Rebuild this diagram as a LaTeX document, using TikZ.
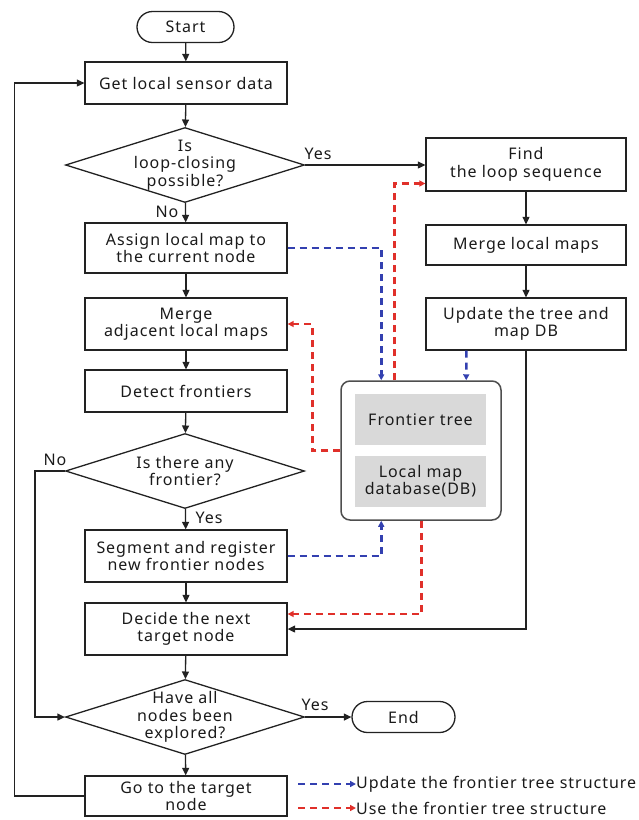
\documentclass[tikz,border=0pt]{standalone}
\usepackage{fontspec}
\setmainfont[LetterSpace=6]{Noto Sans}
\usetikzlibrary{shapes.geometric,shapes.misc,arrows.meta,calc}

\definecolor{lineblk}{HTML}{222222}
\definecolor{updblue}{HTML}{3340B0}
\definecolor{usered}{HTML}{E0302A}
\definecolor{dbgray}{HTML}{D9D9D9}
\definecolor{txt}{HTML}{1A1A1A}

\begin{document}
\begin{tikzpicture}[x=1pt,y=-1pt,
  every node/.style={font=\fontsize{16}{17.5}\selectfont, text=txt},
  proc/.style={draw=lineblk, line width=1.3pt, minimum width=202, align=center, inner sep=0},
  decision/.style={diamond, draw=lineblk, line width=1.3pt, minimum width=239, minimum height=75, inner sep=0},
  terminal/.style={rounded rectangle, draw=lineblk, line width=1.3pt, minimum height=31, inner sep=0},
  flow/.style={draw=lineblk, line width=1.3pt, -{Triangle[length=7.5pt,width=7pt]}},
  updline/.style={draw=updblue, line width=2.5pt, dash pattern=on 7pt off 5pt, -{Triangle[length=6pt,width=6pt]}},
  useline/.style={draw=usered, line width=2.5pt, dash pattern=on 7pt off 5pt, -{Triangle[length=6pt,width=6pt]}},
  cell/.style={fill=dbgray, minimum width=131, minimum height=51, align=center, inner sep=0}
]
\useasboundingbox (0,0) rectangle (638,820);

% main column
\node[terminal, minimum width=97] (start) at (185.5,27) {Start};
\node[proc, minimum height=42] (get) at (186,83) {Get local sensor data};
\node[decision, label={[align=center]center:Is\\loop-closing\\possible?}] (d1) at (185,165) {};
\node[proc, minimum height=50] (assign) at (186,248) {Assign local map to\\the current node};
\node[proc, minimum height=52] (merge) at (186,324) {Merge\\adjacent local maps};
\node[proc, minimum height=42] (detect) at (186,391) {Detect frontiers};
\node[decision, label={[align=center]center:Is there any\\frontier?}] (d2) at (185,471) {};
\node[proc, minimum height=52] (seg) at (186,556) {Segment and register\\new frontier nodes};
\node[proc, minimum height=52] (decide) at (186,629) {Decide the next\\target node};
\node[decision, label={[align=center]center:Have all\\nodes been\\explored?}] (d3) at (185,717) {};
\node[terminal, minimum width=103] (end) at (403.5,717) {End};
\node[proc, minimum height=40] (go) at (186,796) {Go to the target\\node};

% loop-closing column
\node[proc, minimum width=200, minimum height=53] (find) at (526,164.5) {Find\\the loop sequence};
\node[proc, minimum width=200, minimum height=40] (mlm) at (526,245) {Merge local maps};
\node[proc, minimum width=200, minimum height=52] (updb) at (526,324) {Update the tree and\\map DB};

% frontier tree / map database
\node[draw=lineblk!80, line width=1.5pt, rounded corners=9, minimum width=160, minimum height=139] (db) at (421,450.5) {};
\node[cell] (ft) at (420.5,419.5) {Frontier tree};
\node[cell] (lmdb) at (420.5,481) {Local map\\database(DB)};

% branch labels
\node (yes1) at (318,154) {Yes};
\node (no1) at (167,212) {No};
\node (no2) at (55,460) {No};
\node (yes2) at (209,518) {Yes};
\node (yes3) at (315,705) {Yes};

% control flow
\draw[flow] (start) -- (get);
\draw[flow] (get) -- (d1);
\draw[flow] (d1.east) -- (d1.east -| find.west);
\draw[flow] (d1) -- (assign);
\draw[flow] (assign) -- (merge);
\draw[flow] (merge) -- (detect);
\draw[flow] (detect) -- (d2);
\draw[flow] (d2) -- (seg);
\draw[flow] (seg) -- (decide);
\draw[flow] (decide) -- (d3);
\draw[flow] (d3) -- (go);
\draw[flow] (d3.east) -- (end.west);
\draw[flow] (d2.west) -- ++(-30,0) |- (d3.west);
\draw[flow] (go.west) -- ++(-70,0) |- (get.west);
\draw[flow] (find) -- (mlm);
\draw[flow] (mlm) -- (updb);
\draw[flow] (updb.south) |- (decide.east);

% updates of the frontier tree
\draw[updline] (assign.east) -| ($(db.north west)+(41,0)$);
\draw[updline] (seg.east) -| ($(db.south west)+(41,0)$);
\draw[updline] ($(updb.south west)+(41,0)$) -- ($(db.north west)+(126,0)$);

% uses of the frontier tree
\draw[useline] ($(db.north west)+(54,0)$) |- ($(find.west)+(0,19)$);
\draw[useline] (db.west) -- ++(-28,0) |- (merge.east);
\draw[useline] ($(db.south west)+(81,0)$) |- ($(decide.east)+(0,-15)$);

% legend
\coordinate (lb1) at (298,784);
\coordinate (lb2) at (298,808);
\node[anchor=west, inner sep=0] (lt1) at (356,784) {Update the frontier tree structure};
\node[anchor=west, inner sep=0] (lt2) at (356,808) {Use the frontier tree structure};
\draw[updline] (lb1) -- (lt1.west);
\draw[useline] (lb2) -- (lt2.west);
\end{tikzpicture}
\end{document}
